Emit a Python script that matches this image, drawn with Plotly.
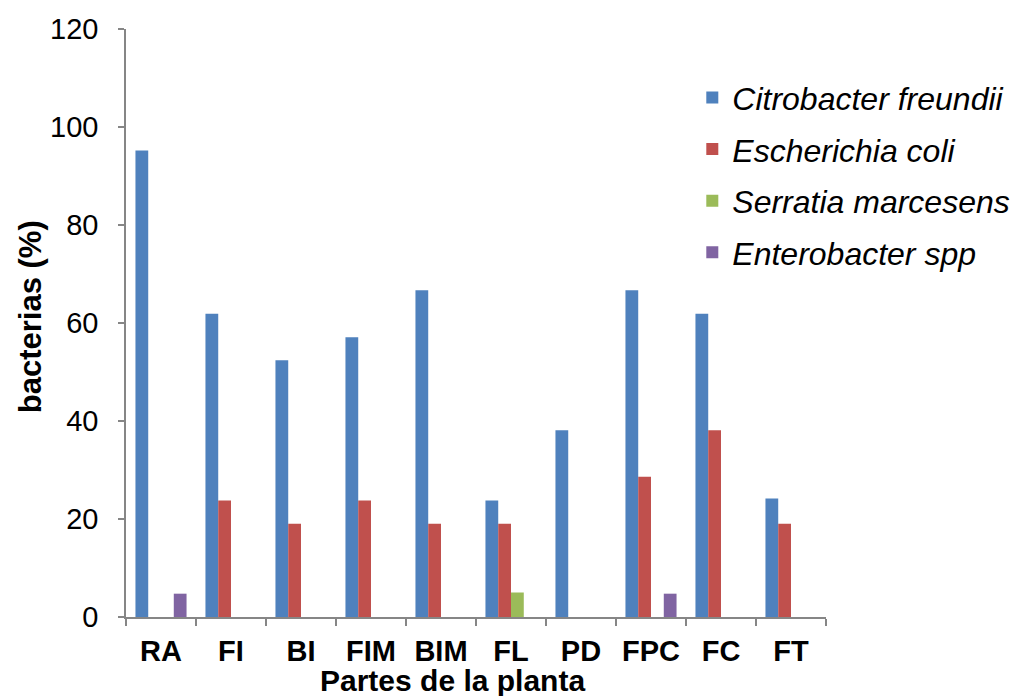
import plotly.graph_objects as go

categories = ["RA", "FI", "BI", "FIM", "BIM", "FL", "PD", "FPC", "FC", "FT"]
citrobacter = [95.2, 61.9, 52.4, 57.1, 66.7, 23.8, 38.1, 66.7, 61.9, 24.2]
escherichia = [0, 23.8, 19.05, 23.8, 19.05, 19.05, 0, 28.6, 38.1, 19.05]
serratia = [0, 0, 0, 0, 0, 5.0, 0, 0, 0, 0]
enterobacter = [4.76, 0, 0, 0, 0, 0, 0, 4.76, 0, 0]

series = [
    ("Citrobacter freundii", citrobacter, "#4F81BD"),
    ("Escherichia coli", escherichia, "#C0504D"),
    ("Serratia marcesens", serratia, "#9BBB59"),
    ("Enterobacter spp", enterobacter, "#8064A2"),
]

fig = go.Figure()
for i, (name, vals, col) in enumerate(series):
    fig.add_trace(go.Bar(
        x=categories, y=vals, name="<i>" + name + "</i>",
        marker=dict(color=col, line=dict(width=0)),
        legendgroup=str(i),
    ))

axis_col = "#868686"
FONT = "Liberation Sans, Arial, sans-serif"
fig.update_layout(
    width=1011, height=696,
    margin=dict(l=126, r=185, t=29, b=79, autoexpand=False),
    paper_bgcolor="white", plot_bgcolor="white",
    barmode="group", bargap=0.27, bargroupgap=0,
    font=dict(family=FONT, color="black"),
    showlegend=True,
    legend=dict(
        x=0.809, y=0.93, xanchor="left", yanchor="top",
        font=dict(size=32, family=FONT),
        traceorder="grouped", tracegroupgap=7,
        bgcolor="rgba(0,0,0,0)",
    ),
    xaxis=dict(
        showline=True, linecolor=axis_col, linewidth=1.5,
        ticks="outside", tickson="boundaries", ticklen=7, tickcolor=axis_col, tickwidth=1.5,
        tickfont=dict(size=29, family=FONT),
        tickangle=0, automargin=False,
        ticklabelstandoff=7,
        showgrid=False, zeroline=False,
        tickprefix="<b>", ticksuffix="</b>",
    ),
    yaxis=dict(
        range=[0, 120], dtick=20, tick0=0,
        showline=True, linecolor=axis_col, linewidth=1.5,
        ticks="outside", ticklen=6, tickcolor=axis_col, tickwidth=1.5,
        tickfont=dict(size=29, family=FONT),
        ticklabelstandoff=14, automargin=False,
        showgrid=False, zeroline=False,
    ),
    annotations=[
        dict(text="<b>bacterias (%)</b>", xref="paper", yref="paper",
             x=-0.137, y=0.51, xanchor="center", yanchor="middle",
             textangle=-90, showarrow=False,
             font=dict(size=31, family=FONT)),
        dict(text="<b>Partes de la planta</b>", xref="paper", yref="paper",
             x=0.467, y=-0.1088, xanchor="center", yanchor="middle",
             showarrow=False,
             font=dict(size=30, family=FONT)),
    ],
)

fig.write_html("out.html")
